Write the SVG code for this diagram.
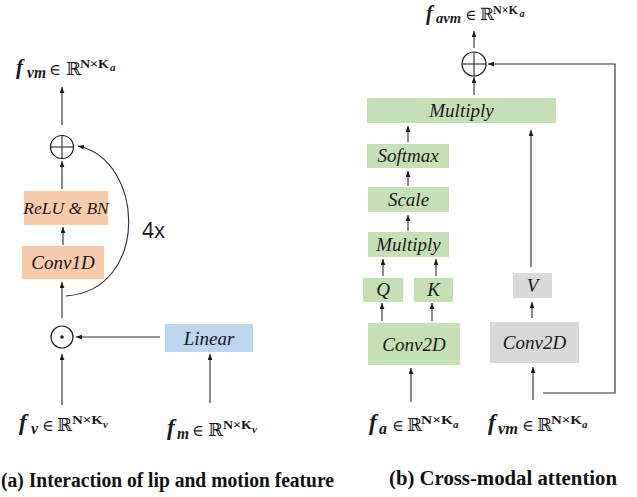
<svg xmlns="http://www.w3.org/2000/svg" width="637" height="497" viewBox="0 0 637 497">
<defs>
<marker id="ah" viewBox="0 0 10 8" refX="10" refY="4" markerWidth="6" markerHeight="5" markerUnits="userSpaceOnUse" orient="auto">
<path d="M0,0 L10,4 L0,8 z" fill="#1a1a1a"/>
</marker>
<style>
.bl{font-family:"Liberation Serif",serif;font-style:italic;font-size:19px;fill:#1a1a1a;text-anchor:middle}
.c{stroke:#2a2a2a;stroke-width:1.1;fill:none;marker-end:url(#ah)}
.ln{stroke:#2a2a2a;stroke-width:1.1;fill:none}
.op{stroke:#1a1a1a;stroke-width:1.2;fill:#fff}
.peach{fill:#F8CBAD}
.blue{fill:#BDD7EE}
.green{fill:#C5E0B4}
.grey{fill:#D9D9D9}
.mf{font-family:"Liberation Serif",serif;font-style:italic;font-weight:bold;font-size:23px;fill:#1a1a1a}
.ms{font-family:"Liberation Serif",serif;font-style:italic;font-weight:bold;font-size:16px;fill:#1a1a1a}
.me{font-family:"DejaVu Serif",serif;font-size:16px;fill:#1a1a1a}
.mr{font-family:"DejaVu Serif",serif;font-size:18px;fill:#1a1a1a}
.mn{font-family:"Liberation Serif",serif;font-weight:bold;font-size:13px;fill:#1a1a1a}
.mk{font-family:"Liberation Serif",serif;font-style:italic;font-weight:bold;font-size:11px;fill:#1a1a1a}
.cap{font-family:"Liberation Serif",serif;font-weight:bold;font-size:20px;fill:#111}
</style>
</defs>
<rect width="637" height="497" fill="#fff"/>

<g id="connectors">
<line class="c" x1="62" y1="125" x2="62" y2="87"/>
<line class="c" x1="62" y1="189" x2="62" y2="161"/>
<line class="c" x1="63" y1="245" x2="63" y2="227"/>
<line class="c" x1="62" y1="318" x2="62" y2="282"/>
<line class="c" x1="160" y1="337" x2="76" y2="337"/>
<line class="c" x1="62" y1="405" x2="62" y2="354"/>
<line class="c" x1="210" y1="403" x2="210" y2="354"/>
<path class="c" d="M66,296 C150,290 145,160 78,146"/>
<line class="c" x1="474" y1="48" x2="474" y2="31"/>
<line class="c" x1="474" y1="95" x2="474" y2="77"/>
<line class="c" x1="408" y1="142" x2="408" y2="126"/>
<line class="c" x1="408" y1="186" x2="408" y2="171"/>
<line class="c" x1="408" y1="231" x2="408" y2="215"/>
<line class="c" x1="383" y1="276" x2="383" y2="259"/>
<line class="c" x1="436" y1="276" x2="436" y2="259"/>
<line class="c" x1="382" y1="321" x2="382" y2="303"/>
<line class="c" x1="432" y1="321" x2="432" y2="303"/>
<line class="c" x1="411" y1="402" x2="411" y2="368"/>
<line class="c" x1="532" y1="318" x2="532" y2="302"/>
<line class="c" x1="531" y1="267" x2="531" y2="130"/>
<line class="c" x1="533" y1="400" x2="533" y2="367"/>
<path class="c" d="M543,393 L615,393 L615,64 L488,64"/>
</g>

<g id="plus-left">
<circle class="op" cx="62" cy="147" r="11.5"/>
<line class="ln" x1="50.5" y1="147" x2="73.5" y2="147"/>
<line class="ln" x1="62" y1="135.5" x2="62" y2="158.5"/>
</g>
<g id="dot-left">
<circle class="op" cx="62" cy="337" r="11"/>
<circle cx="62" cy="337" r="1.8" fill="#1a1a1a"/>
</g>
<g id="relu-bn">
<rect class="peach" x="24" y="191" width="84" height="34"/>
<text class="bl" x="66" y="214" style="font-size:17.5px">ReLU &amp; BN</text>
</g>
<g id="conv1d">
<rect class="peach" x="22" y="246" width="82" height="33"/>
<text class="bl" x="63" y="269">Conv1D</text>
</g>
<g id="linear">
<rect class="blue" x="165" y="324" width="88" height="28"/>
<text class="bl" x="209" y="344.5">Linear</text>
</g>
<g id="label-4x">
<text x="142" y="238" style="font-family:'Open Sans',sans-serif;font-size:21px;fill:#111">4x</text>
</g>

<g id="out-left">
<text class="mf" x="16" y="74" style="font-size:21px">f</text>
<text class="ms" x="27" y="78" textLength="19" lengthAdjust="spacingAndGlyphs">vm</text>
<text class="me" x="49" y="75">∈</text>
<text class="mr" x="66" y="75">ℝ</text>
<text class="mn" x="80" y="68" textLength="29" lengthAdjust="spacingAndGlyphs">N×K</text>
<text class="mk" x="110" y="71">a</text>
</g>
<g id="in-fv">
<text class="mf" x="19" y="430">f</text>
<text class="ms" x="31" y="434">v</text>
<text class="me" x="42" y="431">∈</text>
<text class="mr" x="57" y="431">ℝ</text>
<text class="mn" x="72" y="424" textLength="31" lengthAdjust="spacingAndGlyphs">N×K</text>
<text class="mk" x="103" y="428">v</text>
</g>
<g id="in-fm">
<text class="mf" x="167" y="435">f</text>
<text class="ms" x="177" y="439" textLength="12" lengthAdjust="spacingAndGlyphs">m</text>
<text class="me" x="192" y="436">∈</text>
<text class="mr" x="208" y="436">ℝ</text>
<text class="mn" x="223" y="429" textLength="29" lengthAdjust="spacingAndGlyphs">N×K</text>
<text class="mk" x="252" y="433">v</text>
</g>

<g id="plus-right">
<circle class="op" cx="474" cy="64" r="12"/>
<line class="ln" x1="462" y1="64" x2="486" y2="64"/>
<line class="ln" x1="474" y1="52" x2="474" y2="76"/>
</g>
<g id="multiply-big">
<rect class="green" x="367" y="98" width="189" height="25"/>
<text class="bl" x="461.5" y="117">Multiply</text>
</g>
<g id="softmax">
<rect class="green" x="367" y="144" width="82" height="24"/>
<text class="bl" x="408" y="162">Softmax</text>
</g>
<g id="scale">
<rect class="green" x="368" y="187" width="81" height="25"/>
<text class="bl" x="408.5" y="205.5">Scale</text>
</g>
<g id="multiply-small">
<rect class="green" x="368" y="232" width="81" height="25"/>
<text class="bl" x="408.5" y="250.5">Multiply</text>
</g>
<g id="q">
<rect class="green" x="363" y="278" width="40" height="24"/>
<text class="bl" x="383" y="296">Q</text>
</g>
<g id="k">
<rect class="green" x="414" y="278" width="39" height="24"/>
<text class="bl" x="433.5" y="296">K</text>
</g>
<g id="conv2d-a">
<rect class="green" x="368" y="323" width="92" height="42"/>
<text class="bl" x="414" y="350.5">Conv2D</text>
</g>
<g id="v">
<rect class="grey" x="513" y="273" width="39" height="25"/>
<text class="bl" x="532.5" y="291.5">V</text>
</g>
<g id="conv2d-vm">
<rect class="grey" x="490" y="322" width="89" height="41"/>
<text class="bl" x="534.5" y="349">Conv2D</text>
</g>

<g id="out-right">
<text class="mf" x="426" y="20" style="font-size:20px">f</text>
<text class="ms" x="436" y="23" textLength="25" lengthAdjust="spacingAndGlyphs" style="font-size:15px">avm</text>
<text class="me" x="465" y="20" style="font-size:15px">∈</text>
<text class="mr" x="480" y="20" style="font-size:17px">ℝ</text>
<text class="mn" x="493" y="14" textLength="25" lengthAdjust="spacingAndGlyphs" style="font-size:12px">N×K</text>
<text class="mk" x="519.5" y="17" style="font-size:10px">a</text>
</g>
<g id="in-fa">
<text class="mf" x="369" y="430">f</text>
<text class="ms" x="379" y="434">a</text>
<text class="me" x="392" y="431">∈</text>
<text class="mr" x="407" y="431">ℝ</text>
<text class="mn" x="421" y="424" textLength="32" lengthAdjust="spacingAndGlyphs">N×K</text>
<text class="mk" x="453" y="428">a</text>
</g>
<g id="in-fvm">
<text class="mf" x="488" y="430">f</text>
<text class="ms" x="498" y="434" textLength="20" lengthAdjust="spacingAndGlyphs">vm</text>
<text class="me" x="522" y="431">∈</text>
<text class="mr" x="537" y="431">ℝ</text>
<text class="mn" x="551" y="424" textLength="31" lengthAdjust="spacingAndGlyphs">N×K</text>
<text class="mk" x="582" y="428">a</text>
</g>

<text class="cap" x="1" y="487" textLength="333" lengthAdjust="spacingAndGlyphs">(a) Interaction of lip and motion feature</text>
<text class="cap" x="389" y="485" textLength="228" lengthAdjust="spacingAndGlyphs">(b) Cross-modal attention</text>
</svg>
